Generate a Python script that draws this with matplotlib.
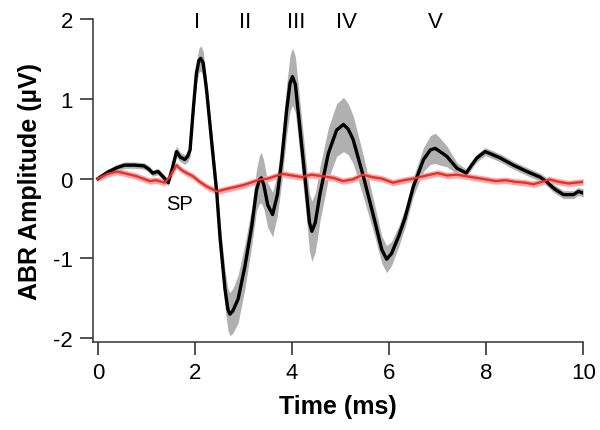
import matplotlib
matplotlib.use("Agg")
import matplotlib.pyplot as plt
import numpy as np

plt.rcParams["axes.unicode_minus"] = False
plt.rcParams["font.family"] = ["Liberation Sans", "DejaVu Sans"]

# ABR waveform (black, mean with SEM band)
t_abr = [0.0, 0.2, 0.4, 0.55, 0.75, 0.95, 1.05, 1.13, 1.24, 1.35, 1.45, 1.53, 1.62, 1.7,
         1.79, 1.85, 1.9, 1.97, 2.03, 2.08, 2.12, 2.17, 2.24, 2.34, 2.45, 2.52, 2.62, 2.68,
         2.72, 2.78, 2.89, 3.03, 3.17, 3.27, 3.33, 3.37, 3.42, 3.5, 3.6, 3.7, 3.79, 3.89,
         3.96, 4.01, 4.07, 4.16, 4.3, 4.36, 4.41, 4.48, 4.58, 4.75, 4.92, 5.06, 5.16, 5.26,
         5.47, 5.68, 5.85, 5.95, 6.05, 6.2, 6.33, 6.5, 6.71, 6.85, 6.95, 7.05, 7.19, 7.4,
         7.59, 7.7, 7.81, 7.98, 8.1, 8.29, 8.56, 8.84, 9.11, 9.25, 9.39, 9.59, 9.8, 9.9, 10.0]
abr_mean = [0.0, 0.08, 0.14, 0.17, 0.17, 0.16, 0.12, 0.07, 0.09, 0.02, -0.05, 0.12, 0.34, 0.27,
            0.24, 0.28, 0.36, 0.9, 1.32, 1.48, 1.51, 1.45, 1.11, 0.49, -0.18, -0.76, -1.39, -1.64,
            -1.7, -1.66, -1.51, -1.1, -0.6, -0.14, -0.01, 0.01, -0.08, -0.33, -0.45, -0.2, 0.24, 0.86,
            1.2, 1.28, 1.18, 0.65, -0.18, -0.55, -0.66, -0.55, -0.18, 0.32, 0.61, 0.68, 0.62, 0.49,
            0.03, -0.47, -0.89, -1.01, -0.94, -0.72, -0.49, -0.1, 0.24, 0.36, 0.38, 0.34, 0.28, 0.13,
            0.07, 0.17, 0.26, 0.34, 0.31, 0.26, 0.17, 0.09, 0.02, -0.04, -0.12, -0.2, -0.2, -0.16, -0.18]
abr_sem = [0.03, 0.04, 0.04, 0.04, 0.04, 0.04, 0.04, 0.04, 0.04, 0.04, 0.04, 0.05, 0.07, 0.06,
           0.06, 0.07, 0.08, 0.11, 0.14, 0.15, 0.16, 0.15, 0.14, 0.14, 0.16, 0.2, 0.24, 0.26,
           0.27, 0.28, 0.3, 0.28, 0.24, 0.26, 0.3, 0.32, 0.3, 0.28, 0.28, 0.26, 0.28, 0.32,
           0.35, 0.36, 0.35, 0.33, 0.33, 0.36, 0.38, 0.37, 0.34, 0.32, 0.33, 0.34, 0.32, 0.3,
           0.26, 0.2, 0.17, 0.17, 0.15, 0.13, 0.12, 0.12, 0.15, 0.18, 0.19, 0.17, 0.13, 0.07,
           0.05, 0.05, 0.05, 0.05, 0.05, 0.05, 0.05, 0.05, 0.05, 0.05, 0.05, 0.05, 0.05, 0.05, 0.05]

# summating potential trace (red)
t_sp = [0.0, 0.2, 0.4, 0.6, 0.8, 1.07, 1.2, 1.38, 1.5, 1.62, 1.7, 1.8, 1.96, 2.1, 2.25, 2.45,
        2.65, 2.86, 3.0, 3.2, 3.34, 3.5, 3.65, 3.8, 4.0, 4.2, 4.4, 4.64, 4.85, 5.05, 5.25,
        5.46, 5.65, 5.85, 6.08, 6.3, 6.5, 6.7, 6.85, 7.0, 7.2, 7.4, 7.6, 7.8, 8.0, 8.2,
        8.4, 8.6, 8.8, 8.97, 9.15, 9.3, 9.5, 9.7, 9.85, 10.0]
sp_mean = [0.0, 0.06, 0.09, 0.06, 0.03, -0.03, -0.02, -0.05, 0.04, 0.17, 0.12, 0.08, 0.03, -0.04, -0.1, -0.16,
           -0.13, -0.1, -0.08, -0.04, -0.01, 0.0, 0.03, 0.06, 0.04, 0.02, 0.05, 0.03, 0.01, -0.03, -0.01,
           0.05, 0.02, 0.0, -0.05, -0.02, 0.0, 0.03, 0.05, 0.07, 0.04, 0.05, 0.03, 0.01, -0.01, -0.03,
           -0.02, -0.04, -0.05, -0.07, -0.04, -0.01, -0.04, -0.06, -0.05, -0.04]
sp_sem = 0.04

wave_labels = ["I", "II", "III", "IV", "V"]
wave_times = [2.04, 3.03, 4.08, 5.13, 6.95]

fig = plt.figure(figsize=(6, 4.31), dpi=100)
ax = fig.add_axes([0.155, 0.204, 0.817, 0.749])

lo = np.array(abr_mean) - np.array(abr_sem)
hi = np.array(abr_mean) + np.array(abr_sem)
ax.fill_between(t_abr, lo, hi, color="#b0b0b0", lw=0)
ax.plot(t_abr, abr_mean, color="black", lw=2.4, solid_joinstyle="round")

sp = np.array(sp_mean)
ax.fill_between(t_sp, sp - sp_sem, sp + sp_sem, color="#f6a8a8", lw=0)
ax.plot(t_sp, sp_mean, color="#e8302a", lw=1.7)

for lab, tx in zip(wave_labels, wave_times):
    ax.text(tx, 1.975, lab, ha="center", va="center", fontsize=16, clip_on=False)
ax.text(1.69, -0.31, "SP", ha="center", va="center", fontsize=14.5)

ax.set_xlim(-0.1, 10)
ax.set_ylim(-2.05, 2)
ax.set_xticks([0, 2, 4, 6, 8, 10])
ax.set_yticks([-2, -1, 0, 1, 2])
ax.spines["top"].set_visible(False)
ax.spines["right"].set_visible(False)
for s in ["left", "bottom"]:
    ax.spines[s].set_color("#333333")
    ax.spines[s].set_linewidth(1.1)
ax.tick_params(direction="out", length=9.5, width=1.3, color="#444444", labelsize=16, pad=5)

ax.set_xlabel("Time (ms)", fontsize=18, fontweight="bold", labelpad=8)
ax.set_ylabel("ABR Amplitude (µV)", fontsize=18, fontweight="bold", labelpad=8)

fig.savefig("out.png", dpi=100)
